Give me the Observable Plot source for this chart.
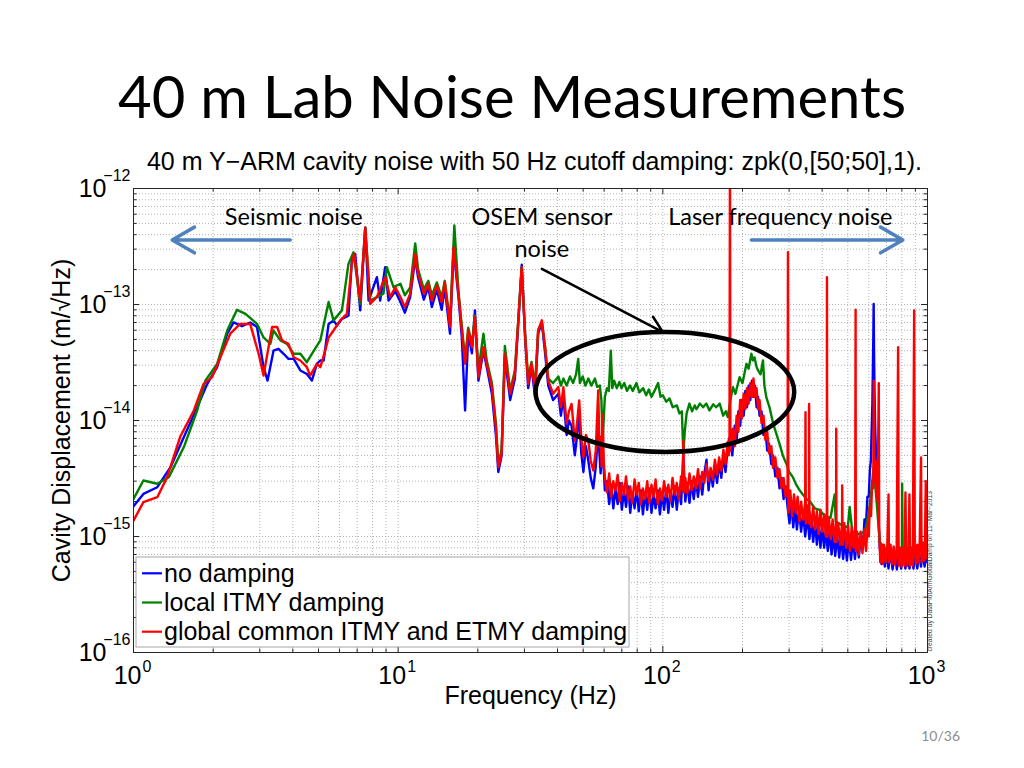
<!DOCTYPE html>
<html>
<head>
<meta charset="utf-8">
<script src="https://cdn.jsdelivr.net/npm/d3@7"></script>
<script src="https://cdn.jsdelivr.net/npm/@observablehq/plot@0.6"></script>
<style>
  html, body { margin: 0; padding: 0; background: #fff; }
  #page { position: relative; width: 1024px; height: 768px; overflow: hidden; background: #fff; }
  #title { position: absolute; left: 0; top: 67px; width: 1024px; text-align: center; font-family: Lato, "Open Sans", sans-serif; font-size: 58px; line-height: 58px; color: #000; white-space: nowrap; }
  #chart { position: absolute; left: 0; top: 140px; }
  #pagenum { position: absolute; left: 880px; width: 80px; top: 727px; text-align: right; font-family: Lato, sans-serif; font-size: 14px; color: #8c8c8c; }
</style>
</head>
<body>
<div id="page">
  <div id="title">40 m Lab Noise Measurements</div>
  <div id="chart"></div>
  <div id="pagenum">10/36</div>
</div>
<script>
// [frequency (Hz), cavity displacement (m/√Hz)]
const noDamping = [
[1.00,1.82e-15],[1.09,2.33e-15],[1.23,2.66e-15],[1.38,3.96e-15],[1.55,7.2e-15],[1.74,1.30e-14],[1.90,2.07e-14],[2.07,2.88e-14],[2.26,5.6e-14],[2.39,7.0e-14],[2.57,6.5e-14],[2.76,7.0e-14],[2.93,6.4e-14],[3.10,2.88e-14],[3.21,2.21e-14],[3.38,4.0e-14],[3.53,4.15e-14],[3.69,3.76e-14],[3.85,3.40e-14],[4.03,3.40e-14],[4.27,2.70e-14],[4.52,2.52e-14],[4.72,2.21e-14],[4.93,3.08e-14],[5.08,3.29e-14],[5.23,3.29e-14],[5.46,6.8e-14],[5.70,7.3e-14],[5.87,6.6e-14],[6.13,7.5e-14],[6.49,8.0e-14],[6.68,2.4e-13],[6.88,2.73e-13],[7.19,8.9e-14],[7.51,4.6e-13],[7.73,1.08e-13],[8.31,1.72e-13],[8.55,1.08e-13],[8.93,2.1e-13],[9.2,1.08e-13],
[9.75,1.30e-13],[10.2,1.05e-13],[10.6,8.5e-14],[11.1,1.16e-13],[11.6,2.5e-13],[11.9,1.7e-13],[12.5,1.1e-13],[13.0,1.41e-13],[13.4,9.5e-14],[14.0,1.35e-13],[14.6,9.0e-14],[15.0,1.4e-13],[15.7,5.6e-14],[16.2,3.0e-13],[16.9,1.16e-13],[17.4,5.2e-14],[17.9,1.22e-14],[18.4,5.6e-14],[19.0,3.8e-14],[19.5,8.9e-14],[20.1,2.2e-14],[21.0,4.0e-14],[21.6,2.9e-14],[22.6,1.7e-14],[23.4,7.5e-15],[23.9,3.6e-15],[24.6,5.0e-15],[25.3,3.5e-14],[26.5,1.5e-14],[27.6,2.3e-14],[28.5,7.5e-14],[29.3,2.2e-13],[30.2,5.0e-14],[31.0,1.9e-14],[31.9,2.9e-14],[32.9,1.6e-14],[33.8,5.6e-14],[34.9,7.0e-14],[35.9,3.8e-14],[36.9,2.0e-14],[38.5,1.5e-14],
[40.3,1.7e-14],[41.2,1.1e-14],[42.1,1.6e-14],[43.3,7.5e-15],[44.2,1.0e-14],[45.2,9e-15],[46.5,5.0e-15],[47.3,7e-15],[48.3,1.1e-14],[49.2,5.2e-15],[50.1,3.6e-15],[51.2,6.0e-15],[52.3,4.5e-15],[53.4,3.2e-15],[54.6,2.6e-15],[55.8,4.0e-15],[57.0,8e-15],[58.2,3.5e-15],[59.2,6e-15],
[60.4,2.5e-15],[61.5,3.0e-15],[62.7,1.9e-15],[63.8,2.8e-15],[65.0,1.75e-15],[66.2,2.6e-15],[67.5,1.9e-15],[68.7,2.9e-15],[70.0,1.7e-15],[71.3,2.5e-15],[72.6,1.8e-15],[74.0,2.7e-15],[75.3,1.6e-15],[76.7,2.4e-15],[78.2,1.75e-15],[79.6,2.6e-15],[81.1,1.65e-15],[82.6,2.5e-15],[84.1,1.55e-15],[85.7,2.4e-15],[87.3,1.7e-15],[88.9,2.6e-15],[90.6,1.6e-15],[92.2,2.3e-15],[93.9,1.75e-15],[95.7,2.5e-15],[97.5,1.55e-15],[99.3,2.4e-15],[101.1,1.7e-15],[103.0,2.6e-15],[104.9,1.6e-15],[106.9,2.5e-15],[108.8,1.8e-15],[110.9,2.7e-15],[112.9,1.7e-15],[115.0,2.6e-15],[117.2,1.9e-15],[119.5,5e-15],[121.6,2.0e-15],[123.8,2.9e-15],[126.1,1.95e-15],[128.5,3.0e-15],[130.9,2.1e-15],[133.3,3.1e-15],[135.8,2.2e-15],[138.3,3.3e-15],[140.9,2.3e-15],[143.5,3.5e-15],[146.2,4.6e-15],[148.9,2.5e-15],[151.6,3.7e-15],[154.5,2.7e-15],[157.3,4.0e-15],[160.3,2.9e-15],[163.2,4.4e-15],[166.3,3.2e-15],[169.4,5.0e-15],[172.5,3.6e-15],[175.7,5.8e-15],[178,7e-15],
[180,6.5e-15],[183,5e-15],[187,9e-15],[190,6.5e-15],[193,1.2e-14],[196,9e-15],[199,1.5e-14],[202,1.1e-14],[205,1.8e-14],[208,1.3e-14],[211,2.0e-14],[214,1.5e-14],[217,2.2e-14],[220,1.6e-14],[223,2.0e-14],[226,1.3e-14],[229,1.6e-14],[232,1.1e-14],[236,1.2e-14],[240,7.5e-15],[244,8.5e-15],[248,5.5e-15],[252,6.3e-15],[257,4.2e-15],[261,5.0e-15],[266,3.3e-15],[271,3.9e-15],[276,2.6e-15],[281,3.2e-15],[286,2.1e-15],[291,2.7e-15],
[296,1.8e-15],[301,1.3e-15],[306,2.0e-15],[311,1.2e-15],[316,1.8e-15],[321,1.15e-15],[327,1.7e-15],[333,1.1e-15],[339,1.6e-15],[345,1.0e-15],[352,1.5e-15],[358,9.5e-16],[364,1.4e-15],[370,9e-16],[376,1.35e-15],[382,8.5e-16],[388,1.3e-15],[394,8e-16],[400,1.2e-15],[407,8e-16],[413,1.15e-15],[420,7.5e-16],[427,1.1e-15],[434,7e-16],[441,1.05e-15],[448,6.8e-16],[456,1.0e-15],[464,6.6e-16],[472,1.0e-15],[480,6.4e-16],[488,9.5e-16],[496,6.2e-16],[505,9.5e-16],[514,6.3e-16],[523,9.5e-16],[532,6.4e-16],[540,9.5e-16],[550,6.6e-16],[560,1.0e-15],[570,8e-16],
[578,1.4e-15],[586,1.3e-15],[593,2.2e-15],[600,2.2e-15],[606,3.8e-15],[611,4.5e-15],[615,8e-15],[619,1.4e-14],[622,3e-14],[624,5e-14],[626,1.01e-13],[628,4e-14],[631,1.6e-14],[635,8e-15],[640,4.5e-15],[646,2.6e-15],[652,1.6e-15],[660,8e-16],[670,5.8e-16],[680,7.5e-16],[690,5.5e-16],[700,7.5e-16],[712,5.3e-16],[725,7.5e-16],[738,5.2e-16],[752,7.3e-16],[766,5.2e-16],[780,7.3e-16],[795,5.3e-16],[810,7.3e-16],[825,5.3e-16],[840,7.3e-16],[855,5.3e-16],[870,7.3e-16],[885,5.3e-16],[900,7.3e-16],[915,5.3e-16],[930,7.3e-16],[945,5.5e-16],[960,7.5e-16],[975,5.5e-16],[990,7.5e-16],[1000,6e-16]
];
const localItmy = [
[1.00,2.11e-15],[1.09,3.04e-15],[1.23,2.85e-15],[1.36,3.25e-15],[1.55,5.9e-15],[1.74,1.22e-14],[1.87,2.21e-14],[2.07,3.08e-14],[2.26,5.97e-14],[2.46,9.0e-14],[2.65,8.3e-14],[2.93,6.8e-14],[3.10,5.2e-14],[3.29,4.58e-14],[3.38,5.97e-14],[3.59,4.9e-14],[3.80,4.58e-14],[4.03,3.76e-14],[4.27,3.76e-14],[4.52,3.18e-14],[4.72,3.76e-14],[5.08,4.9e-14],[5.46,1.05e-13],[5.70,7.3e-14],[6.13,8.9e-14],[6.49,2.24e-13],[6.78,2.82e-13],[7.19,1.01e-13],[7.51,4.6e-13],[7.84,1.08e-13],[8.8,1.24e-13],[9.06,2.1e-13],[9.6,1.41e-13],
[10.2,1.51e-13],[10.6,1.2e-13],[11.1,1.4e-13],[11.6,3.36e-13],[11.9,2.0e-13],[12.5,1.35e-13],[13.0,1.6e-13],[13.4,1.2e-13],[14.0,1.55e-13],[14.6,1.15e-13],[15.0,1.6e-13],[15.7,7.0e-14],[16.3,4.8e-13],[16.9,1.3e-13],[17.4,6.5e-14],[17.9,3.4e-14],[18.4,6.3e-14],[19.0,4.6e-14],[19.5,8.0e-14],[20.1,2.7e-14],[21.0,5.6e-14],[21.6,3.3e-14],[22.6,2.1e-14],[23.4,9.5e-15],[23.9,4.2e-15],[24.6,5.6e-15],[25.3,4.4e-14],[26.5,1.8e-14],[27.6,2.7e-14],[28.5,8.0e-14],[29.3,2.1e-13],[30.2,5.4e-14],[31.0,2.3e-14],[31.9,3.2e-14],[32.9,2.0e-14],[33.8,6.0e-14],[34.9,7.0e-14],[35.9,4.3e-14],[36.9,2.3e-14],[38.5,2.1e-14],
[40.3,2.4e-14],[41.2,2.0e-14],[42.1,2.3e-14],[43.3,2.0e-14],[44.6,2.4e-14],[45.8,2.1e-14],[47.0,2.5e-14],[47.9,3.4e-14],[48.6,2.1e-14],[49.8,2.4e-14],[51.0,2.0e-14],[52.3,2.3e-14],[53.7,2.0e-14],[55.4,2.3e-14],[56.5,1.95e-14],[57.8,2.0e-14],[58.6,1.5e-14],[59.2,6.7e-15],[60.0,1.2e-14],[60.4,1.6e-14],[61.5,1.9e-14],[62.5,1.8e-14],[63.6,4.0e-14],[64.4,1.9e-14],[65.5,2.2e-14],[67.0,1.9e-14],[68.5,2.15e-14],[69.8,1.9e-14],[71.5,2.1e-14],[73.2,1.8e-14],[75.1,2.0e-14],[77.0,1.8e-14],[79.5,2.1e-14],[81.5,1.75e-14],[84.3,1.9e-14],[86.5,1.65e-14],[88.5,1.85e-14],[90.6,1.6e-14],[93.0,1.8e-14],[96,2.1e-14],[98,1.6e-14],[100,1.65e-14],[103,1.45e-14],[106,1.55e-14],[109,1.3e-14],[113,1.35e-14],[115.5,1.15e-14],[118,1.2e-14],[119.5,5.2e-15],[121,8e-15],[123,1.15e-14],[126,1.4e-14],[129,1.2e-14],[132,1.35e-14],[134,1.25e-14],[138,1.4e-14],[142,1.3e-14],[146,1.4e-14],[150,1.22e-14],[155,1.38e-14],[159,1.3e-14],[164,1.4e-14],[169,1.1e-14],[173,1.2e-14],[176,1.07e-14],
[180,1.5e-14],[184,1.94e-14],[188,1.7e-14],[195,2.36e-14],[200,2.1e-14],[207,3.08e-14],[211,2.8e-14],[216,3.76e-14],[219,3.3e-14],[222,3.5e-14],[226,2.9e-14],[229,2.7e-14],[234,2.5e-14],[239,3.3e-14],[242,2.0e-14],[246,1.59e-14],[253,1.3e-14],[261,9.4e-15],[268,7.8e-15],[276,6.3e-15],[284,5.0e-15],[293,4.23e-15],[300,3.6e-15],[310,3.25e-15],[319,2.8e-15],[329,2.5e-15],[338,2.3e-15],[349,2.1e-15],[360,2.0e-15],[375,1.75e-15],[390,1.7e-15],[410,1.5e-15],[430,1.45e-15],[446,2.3e-15],[450,1.35e-15],[475,1.25e-15],[500,1.2e-15],[508,1.8e-15],[520,1.1e-15],[550,1.05e-15],[580,1.1e-15],[600,1.6e-15],[615,2.6e-15],[626,4e-15],[640,2.2e-15],[660,9e-16],[700,7.5e-16],[750,7.2e-16],[800,7.5e-16],[802,2.85e-15],[806,7e-16],[850,6.8e-16],[900,6.6e-16],[950,6.8e-16],[1000,6.8e-16]
];
const globalCommon = [
[1.00,1.37e-15],[1.09,1.98e-15],[1.23,2.18e-15],[1.34,3.25e-15],[1.50,7.2e-15],[1.69,1.22e-14],[1.84,2.07e-14],[1.98,2.36e-14],[2.13,3.51e-14],[2.32,5.6e-14],[2.53,6.8e-14],[2.76,6.8e-14],[2.97,3.76e-14],[3.10,2.44e-14],[3.34,6.4e-14],[3.49,6.4e-14],[3.64,4.9e-14],[3.85,4.58e-14],[4.03,3.51e-14],[4.27,3.29e-14],[4.52,2.88e-14],[4.65,2.44e-14],[4.93,3.08e-14],[5.08,2.88e-14],[5.30,4.0e-14],[5.46,5.2e-14],[5.70,5.97e-14],[6.04,7.3e-14],[6.40,8.3e-14],[6.68,2.24e-13],[6.82,2.73e-13],[7.19,1.08e-13],[7.51,4.6e-13],[7.84,1.01e-13],[8.31,1.16e-13],[8.93,1.72e-13],[9.33,1.16e-13],[9.75,1.41e-13],
[10.2,1.16e-13],[10.6,9.5e-14],[11.1,1.24e-13],[11.6,2.73e-13],[11.9,1.84e-13],[12.5,1.24e-13],[13.0,1.51e-13],[13.4,1.08e-13],[14.0,1.46e-13],[14.6,1.05e-13],[15.0,1.56e-13],[15.7,6.4e-14],[16.2,3.12e-13],[16.9,1.24e-13],[17.4,5.97e-14],[17.9,3.08e-14],[18.4,5.97e-14],[19.0,4.28e-14],[19.5,7.8e-14],[20.1,2.36e-14],[21.0,4.28e-14],[21.6,3.08e-14],[22.6,1.94e-14],[23.4,8.75e-15],[23.9,3.96e-15],[24.6,5.2e-15],[25.3,3.76e-14],[26.5,1.7e-14],[27.6,2.52e-14],[28.5,7.8e-14],[29.3,2.1e-13],[30.2,5.2e-14],[31.0,2.07e-14],[31.9,3.08e-14],[32.9,1.82e-14],[33.8,5.97e-14],[34.9,7.3e-14],[35.9,4.28e-14],[36.9,2.21e-14],[38.5,1.7e-14],
[40.3,1.94e-14],[41.2,1.3e-14],[42.1,1.94e-14],[43.3,9.4e-15],[44.2,1.2e-14],[45.2,1.39e-14],[46.5,6.7e-15],[47.3,9e-15],[48.3,1.49e-14],[49.2,7e-15],[50.1,4.83e-15],[51.2,7.5e-15],[52.3,6.7e-15],[53.4,4.5e-15],[54.6,3.71e-15],[55.8,5.5e-15],[57.0,1.82e-14],[57.6,6e-15],[58.2,7.2e-15],[58.7,4e-15],[59.2,1.14e-14],[59.8,4.5e-15],
[60.4,3.25e-15],[61.5,2.4e-15],[62.7,3.5e-15],[63.8,2.2e-15],[65.0,3.0e-15],[66.2,2.5e-15],[67.5,3.4e-15],[68.7,2.0e-15],[70.0,2.9e-15],[71.3,2.3e-15],[72.6,3.3e-15],[74.0,2.05e-15],[75.3,2.7e-15],[76.7,1.95e-15],[78.2,3.1e-15],[79.6,2.3e-15],[81.1,2.9e-15],[82.6,1.9e-15],[84.1,2.6e-15],[85.7,2.1e-15],[87.3,3.0e-15],[88.9,1.95e-15],[90.6,2.8e-15],[92.2,2.2e-15],[93.9,3.1e-15],[95.7,1.9e-15],[97.5,2.6e-15],[99.3,2.05e-15],[101.1,3.0e-15],[103.0,2.2e-15],[104.9,2.8e-15],[106.9,2.0e-15],[108.8,3.2e-15],[110.9,2.3e-15],[112.9,2.9e-15],[115.0,2.1e-15],[117.2,3.3e-15],[118.6,2.5e-15],[119.5,6.7e-15],[120.4,2.4e-15],[121.6,3.2e-15],[123.8,2.35e-15],[126.1,3.5e-15],[128.5,2.5e-15],[130.9,3.3e-15],[133.3,2.6e-15],[135.8,3.8e-15],[138.3,2.6e-15],[140.9,3.6e-15],[143.5,2.9e-15],[146.2,4.2e-15],[148.9,3.0e-15],[151.6,3.9e-15],[154.5,3.1e-15],[157.3,4.6e-15],[160.3,3.4e-15],[163.2,4.8e-15],[166.3,3.7e-15],[169.4,5.6e-15],[172.5,4.2e-15],[175.7,6.5e-15],[177.5,5.0e-15],[178.6,7.5e-15],[179.3,2e-12],[180,5.5e-15],
[180.5,6e-15],[184,8.5e-15],[187,6.0e-15],[190,1.1e-14],[193,8e-15],[196,1.5e-14],[199,1.05e-14],[202,1.7e-14],[205,1.25e-14],[208,1.9e-14],[211,1.4e-14],[214,2.1e-14],[217,1.6e-14],[220,2.3e-14],[223,1.6e-14],[226,1.9e-14],[229,1.25e-14],[232,1.5e-14],[236,9.5e-15],[240,1.1e-14],[244,6.8e-15],[248,8.0e-15],[252,5.2e-15],[257,6.0e-15],[261,3.9e-15],[266,4.8e-15],[271,3.2e-15],[276,3.8e-15],[281,2.6e-15],[286,3.2e-15],[291,2.2e-15],[296,2.8e-15],[297,2.82e-13],
[298,1.6e-15],[303,2.5e-15],[308,1.5e-15],[313,2.3e-15],[318,1.6e-15],[323,2.2e-15],[328,1.35e-15],[333,2.0e-15],[339,1.4e-15],[345,1.95e-15],[346,1.18e-14],[347,1.3e-15],[352,1.85e-15],[356.5,1.3e-15],[357,1.39e-14],[358,1.7e-15],[364,1.2e-15],[370,1.8e-15],[376,1.15e-15],[382,1.65e-15],[388,1.05e-15],[394,1.7e-15],[400,1.1e-15],[407,1.55e-15],[413,1.0e-15],[416.5,1.5e-15],[417,1.72e-13],[418,1.0e-15],[424,1.45e-15],[431,9.5e-16],[438,1.4e-15],[445,9e-16],[451.5,1.35e-15],[452,8.5e-15],[453,9e-16],[460,1.3e-15],[468,8.5e-16],[475.5,1.3e-15],[476,2.75e-15],[478,8.5e-16],[485,1.3e-15],[493,8e-16],[501,1.25e-15],[509,7.5e-16],[517,1.2e-15],[525,8e-16],[533,1.15e-15],[535,9.0e-14],[536,7.5e-16],[542,1.1e-15],[550,7e-16],[559,1.1e-15],[568,7.2e-16],[577,1.15e-15],[586,7.5e-16],[595,1.3e-15],[600,1.0e-15],
[605,1.8e-15],[612,1.5e-15],[618,3.0e-15],[624,2.6e-15],[626.5,2.2e-14],[629,3.0e-15],[636,4.5e-15],[642,3.0e-15],[648,2.0e-15],[654.5,2.1e-14],[657,1.2e-15],[663,6e-16],[670,8.5e-16],[678,5.8e-16],[685,8.5e-16],[695,6.0e-16],[705,8.5e-16],[712.5,2.3e-15],[715,6.0e-16],[725,8.5e-16],[735,5.8e-16],[745,8.2e-16],[755,5.7e-16],[765,8.0e-16],[774.5,4.28e-14],[778,5.6e-16],[788,8.0e-16],[798,5.5e-16],[808,8.0e-16],[818,5.6e-16],[825.5,2.4e-15],[830,8.2e-16],[840,5.6e-16],[848,8.0e-16],[854.5,2.3e-15],[860,5.6e-16],[870,8.0e-16],[880,5.6e-16],[890.5,8.9e-14],[895,8.3e-16],[905,5.8e-16],[915,8.5e-16],[925,6.0e-16],[934,8.5e-16],[945.5,4.8e-15],[950,6.0e-16],[960,8.8e-16],[970,6.2e-16],[978,8.8e-16],[985,3e-15],[990,6.5e-16],[1000,8e-16]
];

const seriesNames = ["no damping", "local ITMY damping", "global common ITMY and ETMY damping"];
const seriesColors = ["#0000ff", "#008000", "#ff0000"];
const xTickValues = [1, 10, 100, 1000];
const xTickExps = ["0", "1", "2", "3"];
const yTickValues = [1e-16, 1e-15, 1e-14, 1e-13, 1e-12];
const yTickExps = ["\u221216", "\u221215", "\u221214", "\u221213", "\u221212"];
const subtitle = "40 m Y\u2212ARM cavity noise with 50 Hz cutoff damping: zpk(0,[50;50],1).";
const xLabel = "Frequency (Hz)";
const yLabel = "Cavity Displacement (m/\u221AHz)";
const credit = "created by DataPlotArmGlobalDamp on 11\u2212Mar\u22122013";
const notes = [
  {f: 4.03, v: 5.6e-13, t: "Seismic noise"},
  {f: 34.9, v: 5.6e-13, t: "OSEM sensor"},
  {f: 34.9, v: 3.0e-13, t: "noise"},
  {f: 278, v: 5.6e-13, t: "Laser frequency noise"}
];
const blueArrows = [
  {f1: 3.91, v1: 3.6e-13, f2: 1.40, v2: 3.6e-13},
  {f1: 216, v1: 3.6e-13, f2: 807, v2: 3.6e-13}
];
const blackArrow = [{f1: 34.9, v1: 2.03e-13, f2: 100, v2: 5.77e-14}];
const circled = {fLeft: 33.2, fRight: 315, vTop: 5.74e-14, vBottom: 5.3e-15};

const W = 1024, H = 600, mT = 48, mR = 97, mB = 88, mL = 133;
const frameW = W - mL - mR, frameH = H - mT - mB;
const kx = 3 / frameW, ky = 4 / frameH;

const xGrid = [], yGrid = [];
for (let d = 0; d < 3; d++) for (let k = 1; k < 10; k++) xGrid.push({v: k * Math.pow(10, d), major: k === 1});
xGrid.push({v: 1000, major: true});
for (let d = -16; d < -12; d++) for (let k = 1; k < 10; k++) yGrid.push({v: k * Math.pow(10, d), major: k === 1});
yGrid.push({v: 1e-12, major: true});
const tl = d => d.major ? 6 : 3.5;

const lineOpts = (stroke) => ({x: d => d[0], y: d => d[1], stroke, strokeWidth: 2.4, clip: true, strokeLinejoin: "round"});
const gridStyle = {stroke: "#b4b4b4", strokeDasharray: "1,2", strokeWidth: 1};
const tickStroke = "#262626";

const chart = Plot.plot({
  width: W, height: H, marginTop: mT, marginRight: mR, marginBottom: mB, marginLeft: mL,
  x: {type: "log", domain: [1, 1000], axis: null},
  y: {type: "log", domain: [1e-16, 1e-12], axis: null},
  style: {fontFamily: "'Liberation Sans', Arial, sans-serif", color: "#000", background: "#fff"},
  marks: [
    Plot.ruleX(xGrid.filter(d => d.v > 1 && d.v < 1000), {x: "v", ...gridStyle}),
    Plot.ruleY(yGrid.filter(d => d.v > 1e-16 && d.v < 1e-12), {y: "v", ...gridStyle}),
    Plot.ruleX(xGrid, {x: "v", y1: () => 1e-16, y2: d => 1e-16 * Math.pow(10, tl(d) * ky), stroke: tickStroke}),
    Plot.ruleX(xGrid, {x: "v", y1: () => 1e-12, y2: d => 1e-12 / Math.pow(10, tl(d) * ky), stroke: tickStroke}),
    Plot.ruleY(yGrid, {y: "v", x1: () => 1, x2: d => Math.pow(10, tl(d) * kx), stroke: tickStroke}),
    Plot.ruleY(yGrid, {y: "v", x1: () => 1000, x2: d => 1000 / Math.pow(10, tl(d) * kx), stroke: tickStroke}),
    Plot.line(noDamping, lineOpts(seriesColors[0])),
    Plot.line(localItmy, lineOpts(seriesColors[1])),
    Plot.line(globalCommon, lineOpts(seriesColors[2])),
    Plot.frame({stroke: tickStroke}),
    Plot.text(xTickValues, {x: d => d, frameAnchor: "bottom", text: () => "10", textAnchor: "end", dx: 8, dy: 31, fontSize: 25}),
    Plot.text(xTickValues, {x: d => d, frameAnchor: "bottom", text: (d, i) => xTickExps[i], textAnchor: "start", dx: 9, dy: 19, fontSize: 16}),
    Plot.text(yTickValues, {y: d => d, frameAnchor: "left", text: () => "10", textAnchor: "end", dx: -27, fontSize: 25}),
    Plot.text(yTickValues, {y: d => d, frameAnchor: "left", text: (d, i) => yTickExps[i], textAnchor: "end", dx: -3, dy: -13, fontSize: 16}),
    Plot.text([subtitle], {frameAnchor: "top", text: d => d, textAnchor: "middle", dx: 4, dy: -36, fontSize: 25}),
    Plot.text([xLabel], {frameAnchor: "bottom", text: d => d, textAnchor: "middle", dy: 51, fontSize: 25}),
    Plot.text([yLabel], {frameAnchor: "left", text: d => d, textAnchor: "middle", rotate: -90, dx: -72, fontSize: 25}),
    Plot.text([credit], {frameAnchor: "bottom-right", text: d => d, rotate: -90, textAnchor: "start", dx: 4, dy: -1, fontSize: 6.7, fill: "#444"}),
    Plot.text(notes, {x: "f", y: "v", text: "t", textAnchor: "middle", fontFamily: "Lato, 'Open Sans', sans-serif", fontSize: 23.5}),
    Plot.arrow(blueArrows, {x1: "f1", y1: "v1", x2: "f2", y2: "v2", stroke: "#4f81bd", strokeWidth: 3.5, headLength: 11}),
    Plot.arrow(blackArrow, {x1: "f1", y1: "v1", x2: "f2", y2: "v2", stroke: "#000", strokeWidth: 2.5, headLength: 11})
  ]
});
document.getElementById("chart").appendChild(chart);

const svg = d3.select(chart);
function logPos(s, v) {
  const [d0, d1] = s.domain, [r0, r1] = s.range;
  return r0 + (Math.log10(v) - Math.log10(d0)) / (Math.log10(d1) - Math.log10(d0)) * (r1 - r0);
}
const xs = chart.scale("x"), ys = chart.scale("y");
const exL = logPos(xs, circled.fLeft), exR = logPos(xs, circled.fRight);
const eyT = logPos(ys, circled.vTop), eyB = logPos(ys, circled.vBottom);
svg.append("ellipse")
  .attr("cx", (exL + exR) / 2).attr("cy", (eyT + eyB) / 2)
  .attr("rx", (exR - exL) / 2).attr("ry", (eyB - eyT) / 2)
  .attr("fill", "none").attr("stroke", "#000").attr("stroke-width", 4.5);

// legend
const lx = mL + 3, ly = H - mB - 95;
const lg = svg.append("g").attr("text-anchor", "start");
lg.append("rect").attr("x", lx).attr("y", ly).attr("width", 493).attr("height", 90)
  .attr("fill", "#fff").attr("stroke", "#a6a6a6").attr("stroke-width", 1);
seriesNames.forEach((name, i) => {
  const yy = ly + 16.3 + i * 29.2;
  lg.append("line").attr("x1", lx + 6).attr("x2", lx + 26).attr("y1", yy).attr("y2", yy)
    .attr("stroke", seriesColors[i]).attr("stroke-width", 2.2);
  lg.append("text").attr("x", lx + 28).attr("y", yy + 8.5).attr("font-size", 25)
    .attr("text-anchor", "start")
    .attr("font-family", "'Liberation Sans', Arial, sans-serif").attr("fill", "#000").text(name);
});
</script>
</body>
</html>
